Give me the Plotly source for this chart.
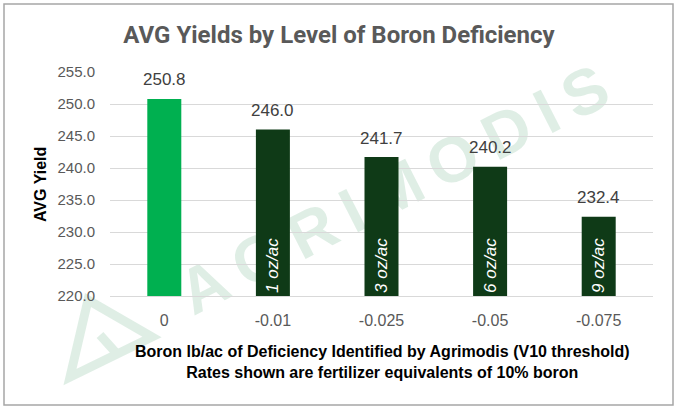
import plotly.graph_objects as go

# data
deficiency = ["0", "-0.01", "-0.025", "-0.05", "-0.075"]
avg_yield = [250.8, 246.0, 241.7, 240.2, 232.4]
rate_labels = ["", "1 oz/ac", "3 oz/ac", "6 oz/ac", "9 oz/ac"]
bar_colors = ["#00B050", "#0F3A17", "#0F3A17", "#0F3A17", "#0F3A17"]
y_ticks = [220, 225, 230, 235, 240, 245, 250, 255]
y_min = 220

W, H = 680, 410
L, R, T, B = 110, 27, 72, 114
PW, PH = W - L - R, H - T - B
WM = "rgba(40,140,80,0.15)"


def px(fx, fy):
    # figure pixels -> paper coords (paper = plot area in plotly)
    return (fx - L) / PW, (H - B - fy) / PH


fig = go.Figure()
fig.add_trace(go.Bar(
    x=deficiency,
    y=[v - y_min for v in avg_yield],
    base=y_min,
    customdata=avg_yield,
    hovertemplate="%{x}: %{customdata:.1f}<extra></extra>",
    marker=dict(color=bar_colors, line=dict(width=0)),
    text=rate_labels,
    textposition="inside",
    insidetextanchor="start",
    textangle=-90,
    insidetextfont=dict(family="Liberation Sans, Arial", size=17, color="white", style="italic"),
))

# value labels above the bars
annotations = []
for i, val in enumerate(avg_yield):
    annotations.append(dict(
        x=i, y=val, xref="x", yref="y", text="%.1f" % val,
        showarrow=False, yshift=19,
        font=dict(family="Liberation Sans, Arial", size=17, color="#404040"),
    ))

ax, ay = px(40, 185)
annotations.append(dict(
    x=ax, y=ay, xref="paper", yref="paper", text="<b>AVG Yield</b>",
    xanchor="center", yanchor="middle",
    textangle=-90, showarrow=False,
    font=dict(family="Liberation Sans, Arial", size=16, color="black"),
))
ax, ay = px(382, 362)
annotations.append(dict(
    x=ax, y=ay, xref="paper", yref="paper",
    xanchor="center", yanchor="middle",
    text="<b>Boron lb/ac of Deficiency Identified by Agrimodis (V10 threshold)</b><br>"
         "<b>Rates shown are fertilizer equivalents of 10% boron</b>",
    showarrow=False, align="center",
    font=dict(family="Liberation Sans, Arial", size=16, color="black"),
))

wx, wy = px(391, 184)
bx0, by0 = px(4, 405)
bx1, by1 = px(673, 4)
logo = [px(88, 300), px(70, 377), px(152, 337), px(100, 335), px(118, 355)]
logo_path = "M %f,%f L %f,%f L %f,%f Z M %f,%f L %f,%f" % tuple(c for p in logo for c in p)
shapes = [
    # watermark, kept under the bars
    dict(type="rect", xref="paper", yref="paper",
         x0=wx - 0.01, x1=wx + 0.01, y0=wy - 0.01, y1=wy + 0.01,
         line=dict(width=0), fillcolor="rgba(0,0,0,0)", layer="between",
         label=dict(text="A\u2009G\u2009R\u2009I\u2009M\u2009O\u2009D\u2009I\u2009S",
                    textangle=-27, textposition="middle center",
                    font=dict(family="Liberation Sans, Arial", size=64, color=WM,
                              weight="bold"))),
    dict(type="path", xref="paper", yref="paper", path=logo_path,
         line=dict(color=WM, width=9), fillcolor="rgba(0,0,0,0)", layer="between"),
    # chart border
    dict(type="rect", xref="paper", yref="paper",
         x0=bx0, x1=bx1, y0=by0, y1=by1,
         line=dict(color="#A6A6A6", width=1.5), fillcolor="rgba(0,0,0,0)"),
]

fig.update_layout(
    width=W, height=H,
    margin=dict(l=L, r=R, t=T, b=B),
    paper_bgcolor="white",
    plot_bgcolor="white",
    bargap=0.687,
    showlegend=False,
    title=dict(
        text="<b>AVG Yields by Level of Boron Deficiency</b>",
        x=339 / W, xanchor="center", y=1 - 35 / H, yanchor="middle",
        font=dict(family="Roboto", size=24, color="#595959"),
    ),
    xaxis=dict(
        type="category",
        showgrid=False,
        showline=True, linecolor="#D9D9D9", linewidth=1,
        ticks="", ticklabelstandoff=10,
        tickfont=dict(family="Liberation Sans, Arial", size=16, color="#595959"),
    ),
    yaxis=dict(
        range=[y_min, 255],
        tickvals=y_ticks,
        tickformat=".1f",
        showgrid=True, gridcolor="#D9D9D9", gridwidth=1,
        zeroline=False, showline=False,
        ticks="", ticklabelstandoff=14,
        tickfont=dict(family="Liberation Sans, Arial", size=15, color="#595959"),
    ),
    annotations=annotations,
    shapes=shapes,
)

fig.write_html("out.html", config={"displayModeBar": False},
               post_script="document.body.style.margin='0';")
